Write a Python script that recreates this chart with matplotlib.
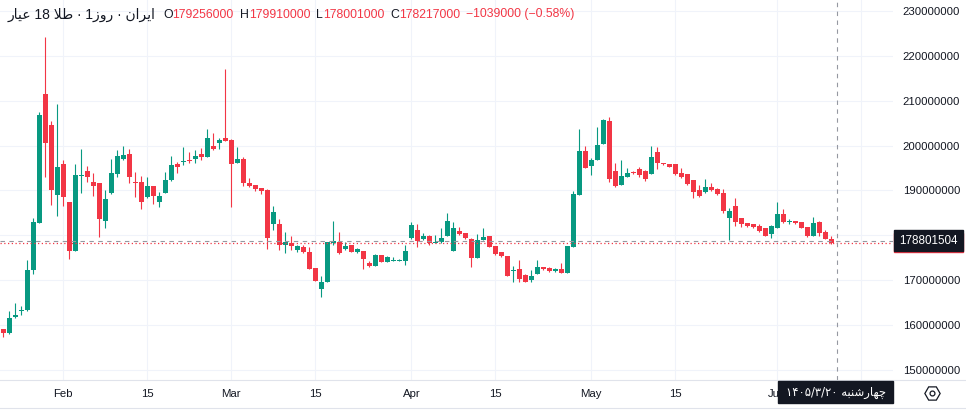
import matplotlib.pyplot as plt
import numpy as np
from matplotlib.patches import Rectangle
from matplotlib.lines import Line2D

plt.rcParams['font.family'] = ['Liberation Sans', 'DejaVu Sans']

# daily OHLC, millions of rials (18k gold, Iran)
opens = [159.1, 158.3, 161.8, 163.2, 163.3, 172.2, 182.8, 211.5, 204.6, 189.0,
         195.9, 187.4, 176.6, 193.3, 194.3, 191.8, 191.6, 183.3, 189.4, 193.7,
         196.95, 198.1, 191.9, 191.8, 188.6, 191.0, 187.5, 189.5, 192.3, 195.9,
         196.4, 196.8, 197.0, 198.1, 197.5, 200.0, 200.5, 201.7, 201.3, 196.2,
         197.0, 191.75, 191.23, 190.48, 190.11, 182.45, 182.45, 177.84, 178.22, 176.73,
         177.47, 176.36, 172.71, 167.95, 169.67, 178.22, 178.51, 177.03, 177.84, 176.21,
         176.51, 173.9, 173.23, 175.61, 174.13, 174.2, 174.35, 174.35, 179.4, 181.19,
         179.18, 179.93, 178.36, 178.44, 179.93, 176.58, 180.97, 180.52, 179.18, 175.02,
         178.96, 179.85, 177.62, 176.21, 175.39, 172.04, 172.49, 171.15, 170.04, 171.38,
         172.86, 172.71, 172.12, 172.49, 171.67, 177.47, 189.07, 198.81, 195.46, 196.8,
         200.45, 205.58, 194.35, 191.23, 193.09, 194.2, 194.72, 194.42, 193.68, 198.51,
         196.06, 195.91, 195.84, 193.83, 193.68, 192.34, 190.11, 189.74, 190.86, 190.33,
         189.37, 183.79, 186.54, 183.79, 182.68, 182.45, 182.08, 181.56, 180.22, 181.71,
         184.68, 182.9, 183.2, 182.97, 181.78, 179.85, 183.05, 180.67, 179.256]
highs = [159.2, 163.2, 164.8, 164.2, 174.6, 183.9, 207.6, 224.3, 205.4, 209.3,
         196.8, 187.5, 195.9, 199.3, 195.5, 193.8, 191.7, 190.1, 197.0, 199.0,
         199.9, 199.3, 194.05, 193.3, 193.1, 191.1, 189.7, 194.05, 197.7, 196.4,
         199.6, 198.5, 199.0, 199.55, 203.7, 202.9, 201.6, 217.1, 201.4, 199.8,
         197.5, 192.71, 191.3, 190.6, 190.3, 186.54, 183.57, 180.82, 179.85, 177.84,
         177.84, 177.5, 172.8, 171.0, 178.6, 183.2, 180.82, 178.44, 177.9, 177.1,
         176.6, 174.27, 175.8, 175.7, 175.3, 175.24, 174.72, 177.84, 182.9, 182.53,
         180.6, 180.07, 180.07, 181.56, 185.06, 182.9, 181.78, 180.6, 179.3, 180.3,
         181.56, 179.9, 177.7, 176.3, 175.5, 173.16, 174.5, 171.3, 172.27, 174.5,
         173.0, 172.9, 172.8, 173.75, 177.7, 189.81, 203.72, 199.93, 197.32, 204.09,
         205.87, 206.32, 196.06, 196.8, 194.94, 194.3, 195.32, 194.6, 199.93, 199.63,
         196.2, 196.0, 195.9, 194.94, 193.7, 192.4, 191.23, 192.57, 191.6, 190.5,
         190.26, 186.02, 188.25, 183.9, 182.8, 182.6, 182.53, 181.7, 182.2, 187.51,
         185.87, 183.57, 183.3, 183.0, 181.9, 184.01, 183.1, 181.19, 179.91]
lows = [157.3, 158.0, 161.6, 162.3, 163.2, 171.4, 182.7, 193.1, 186.8, 184.4,
        186.6, 174.8, 176.5, 189.5, 192.0, 188.8, 179.6, 181.7, 189.3, 193.1,
        196.9, 191.7, 188.6, 185.9, 188.25, 186.9, 186.4, 189.4, 192.2, 194.0,
        195.7, 196.1, 196.2, 196.8, 197.4, 199.0, 199.2, 201.1, 186.4, 196.1,
        191.0, 190.85, 189.9, 189.22, 177.03, 181.19, 176.73, 176.13, 176.73, 176.36,
        176.13, 172.5, 169.8, 166.32, 169.6, 177.84, 175.84, 176.73, 176.2, 176.0,
        172.49, 172.86, 173.2, 174.0, 173.98, 174.2, 174.35, 173.38, 179.18, 177.47,
        178.96, 177.84, 178.2, 178.2, 179.9, 176.58, 180.1, 179.2, 173.01, 175.0,
        178.9, 177.4, 175.6, 175.1, 170.9, 169.52, 169.52, 169.5, 169.67, 171.3,
        172.3, 171.9, 171.9, 171.6, 171.6, 177.3, 189.0, 195.0, 193.46, 196.7,
        200.4, 191.97, 190.85, 191.2, 193.0, 193.7, 193.09, 192.19, 193.6, 194.8,
        195.7, 195.2, 193.5, 192.71, 191.3, 188.4, 188.62, 189.37, 189.96, 189.1,
        184.91, 178.96, 182.08, 181.78, 181.9, 181.56, 180.67, 179.8, 179.48, 181.6,
        182.68, 182.45, 182.5, 181.6, 179.7, 179.8, 179.85, 179.2, 178.001]
closes = [158.2, 161.6, 162.3, 163.4, 172.2, 182.9, 206.8, 200.5, 190.1, 195.3,
          188.6, 176.6, 193.5, 193.5, 193.1, 190.9, 183.6, 188.0, 193.8, 197.8,
          197.9, 192.9, 191.75, 187.5, 191.0, 188.85, 188.8, 192.3, 195.7, 195.3,
          196.6, 196.6, 197.8, 197.5, 201.8, 199.3, 201.3, 201.1, 195.8, 197.0,
          191.6, 191.08, 190.33, 189.89, 179.48, 185.13, 177.84, 178.59, 177.62, 177.62,
          176.36, 172.56, 169.89, 169.52, 178.51, 178.81, 175.99, 177.62, 176.36, 176.95,
          174.72, 173.23, 175.61, 174.13, 175.17, 174.35, 174.5, 176.51, 182.3, 178.81,
          179.93, 178.22, 178.51, 179.33, 183.2, 181.64, 180.3, 179.33, 175.02, 178.96,
          179.7, 177.47, 175.84, 175.39, 171.0, 172.27, 170.19, 169.67, 170.93, 172.86,
          172.49, 172.12, 172.49, 171.67, 177.62, 189.22, 198.81, 195.09, 196.8, 200.15,
          205.65, 192.57, 191.0, 193.31, 193.83, 193.83, 193.46, 192.57, 197.55, 196.06,
          195.84, 195.32, 193.68, 193.09, 191.45, 189.74, 188.77, 190.71, 190.11, 189.22,
          185.5, 185.43, 183.05, 182.53, 182.08, 181.78, 180.97, 179.93, 182.08, 184.68,
          182.9, 183.12, 182.68, 181.71, 179.85, 182.83, 180.59, 179.256, 178.217]

# time axis: the Jun 15 label sits under the date box, so it is not shown
tick_pos = [10, 24, 38, 52, 68, 82, 98, 112, 129, 143]
tick_labels = ['Feb', '15', 'Mar', '15', 'Apr', '15', 'May', '15', 'Jun', '']
# 180000000 is hidden behind the crosshair price label
price_ticks = [150000000, 160000000, 170000000, 180000000, 190000000,
               200000000, 210000000, 220000000, 230000000]
price_labels = ['150000000', '160000000', '170000000', '', '190000000',
                '200000000', '210000000', '220000000', '230000000']
cross_price = 178801504
cross_idx = 139

# Persian strings already shaped (presentation forms, visual order)
title = '\uFEAD\uFE8E\uFEF4\uFECB 18 \uFEFC\uFEC3 \u00b7 1\uFEAF\uFEED\uFEAD \u00b7 \uFEE5\uFE8D\uFEAE\uFEF3\uFE8D'
date_label = ('\u06F1\u06F4\u06F0\u06F5/\u06F3/\u06F2\u06F0 '
              '\uFEEA\uFE92\uFEE8\uFEB7\uFEAD\uFE8E\uFEEC\uFB7C')

up = '#089981'
down = '#f23645'
dark = '#131722'

o = np.array(opens) * 1e6
h = np.array(highs) * 1e6
l = np.array(lows) * 1e6
c = np.array(closes) * 1e6
x = np.arange(len(o))
cols = np.where(c >= o, up, down)

W, H = 966, 411
fig = plt.figure(figsize=(W / 100, H / 100), dpi=100)
ax = fig.add_axes([0, 31 / H, 893 / W, 380 / H])

ax.vlines(x, l, h, colors=cols, linewidth=0.8, zorder=2)
body = np.maximum(np.abs(c - o), 0.2e6)
ax.bar(x, body, bottom=np.minimum(o, c), width=0.78, color=cols, linewidth=0, zorder=3)

ax.set_xlim(-0.55, 148.28)
ax.set_ylim(147.73e6, 232.49e6)
for s in ax.spines.values():
    s.set_visible(False)
ax.yaxis.tick_right()
ax.set_yticks(price_ticks)
ax.set_yticklabels(price_labels)
ax.set_xticks(tick_pos)
ax.set_xticklabels(tick_labels)
ax.tick_params(axis='y', length=0, pad=7, labelsize=8.2, labelcolor=dark)
ax.tick_params(axis='x', length=0, pad=6.5, labelsize=8.2, labelcolor=dark)
ax.grid(True, color='#f0f3fa', linewidth=0.8, zorder=0)
ax.set_axisbelow(True)

# last price and crosshair
ax.axhline(c[-1], color=down, linestyle=(0, (1, 2)), linewidth=0.9, zorder=4)
ax.axhline(cross_price, color='#9598a1', linestyle=(0, (4, 4)), linewidth=0.8, zorder=4)
ax.axvline(cross_idx, color='#9598a1', linestyle=(0, (4, 4)), linewidth=0.8, zorder=4)


def fx(px):
    return px / W


def fy(py):
    return 1 - py / H


# separators of the time axis
for py in (380, 408):
    fig.add_artist(Line2D([0, 1], [fy(py), fy(py)], color='#e0e3eb', linewidth=0.8))

# price labels on the right axis
fig.add_artist(Rectangle((fx(894), fy(252.5)), fx(69), 19 / H, color=down, zorder=5))
fig.add_artist(Rectangle((fx(894), fy(250.7)), fx(69), 20.7 / H, color=dark, zorder=6))
fig.text(fx(928.8), fy(240.6), str(cross_price), color='white', fontsize=8.4,
         ha='center', va='center', zorder=7)

# date label of the crosshair
fig.add_artist(Rectangle((fx(778.3), fy(403.3)), fx(115), 22.5 / H, color=dark, zorder=6))
fig.text(fx(835.8), fy(392.3), date_label, color='white', fontsize=8.4,
         family=['DejaVu Sans'], ha='center', va='center', zorder=7)

# settings icon
fig.add_artist(Line2D([fx(931.7)], [fy(393)], marker='H', markersize=11,
                      markerfacecolor='none', markeredgecolor=dark, markeredgewidth=0.9))
fig.add_artist(Line2D([fx(931.7)], [fy(393)], marker='o', markersize=3.5,
                      markerfacecolor='none', markeredgecolor=dark, markeredgewidth=0.9))

# header line
chg = c[-1] - c[-2]
pct = chg / c[-2] * 100
pieces = [
    (title, dark, 7, 10.0),
    ('O', dark, 0, 8.8), (f'{o[-1]:.0f}', down, 6, 8.8),
    ('H', dark, 0, 8.8), (f'{h[-1]:.0f}', down, 6, 8.8),
    ('L', dark, 0, 8.8), (f'{l[-1]:.0f}', down, 6, 8.8),
    ('C', dark, 0, 8.8), (f'{c[-1]:.0f}', down, 6, 8.8),
    (f'\u2212{abs(chg):.0f} (\u2212{abs(pct):.2f}%)', down, 0, 8.8),
]
renderer = fig.canvas.get_renderer()
px = 8
for txt, col, gap, size in pieces:
    t = fig.text(fx(px), fy(14.5), txt, color=col, fontsize=size, ha='left', va='center')
    bb = t.get_window_extent(renderer)
    px = bb.x1 + gap

fig.savefig('out.png', dpi=100, facecolor='white')
